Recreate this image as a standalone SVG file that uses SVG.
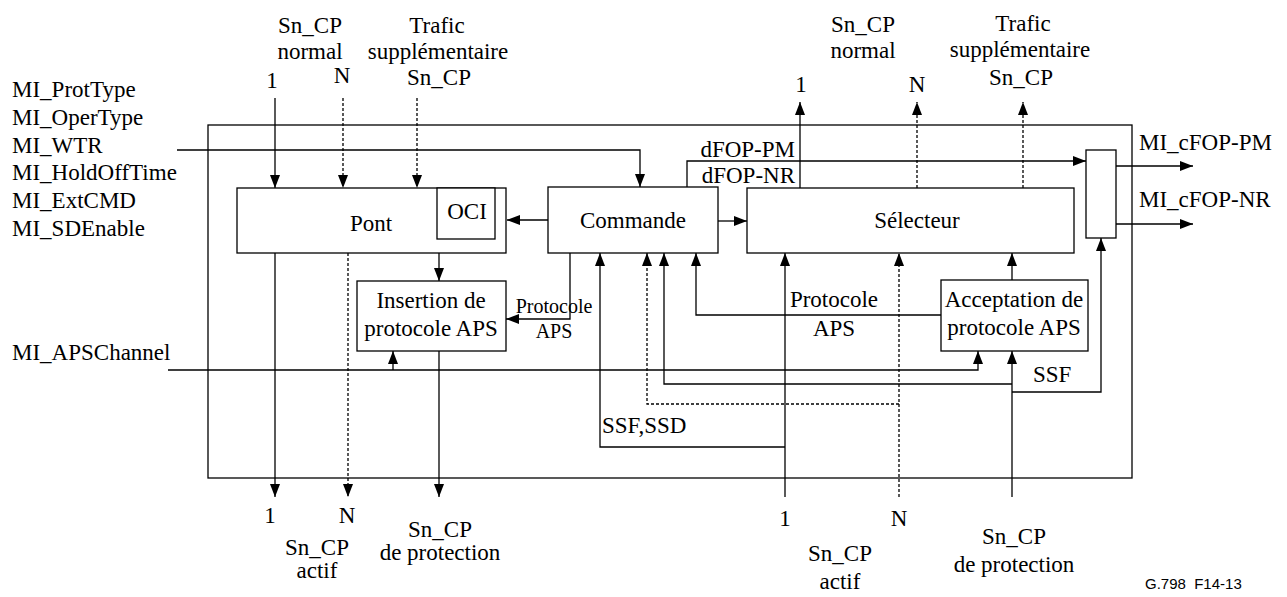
<svg xmlns="http://www.w3.org/2000/svg" width="1287" height="597" viewBox="0 0 1287 597">
<style>
text{font-family:"Liberation Serif","Times New Roman",serif;font-size:23px;fill:#000}
.m{text-anchor:middle}
.e{text-anchor:end}
.s{font-size:20px}
.f{font-family:"Liberation Sans",Arial,sans-serif;font-size:15px}
.box{fill:#fff;stroke:#000;stroke-width:1.3}
.frame{fill:none;stroke:#000;stroke-width:1.3}
.c{fill:none;stroke:#000;stroke-width:1.3}
.a{marker-end:url(#ah)}
.d{stroke-dasharray:3,2}
</style>
<defs>
<marker id="ah" markerUnits="userSpaceOnUse" markerWidth="13" markerHeight="10" refX="13" refY="5" orient="auto">
<path d="M0,0 L13,5 L0,10 z" fill="#000"/>
</marker>
</defs>
<rect class="frame" x="208" y="125" width="924" height="353"/>
<g id="connectors">
<path class="c a" d="M177,150 H640 V187"/>
<path class="c a" d="M275,98 V188"/>
<path class="c a d" d="M343,98 V188"/>
<path class="c a d" d="M417,98 V188"/>
<path class="c a" d="M548,220 H507"/>
<path class="c a" d="M718,221 H747"/>
<path class="c a" d="M439,253 V281"/>
<path class="c a" d="M570,253 V319 H506"/>
<path class="c a" d="M439,351 V497"/>
<path class="c a" d="M275,253 V497"/>
<path class="c a d" d="M348,253 V497"/>
<path class="c a" d="M168,370 H978 V351"/>
<path class="c a" d="M393,370 V351"/>
<path class="c a" d="M687,187 V161 H1086"/>
<path class="c a" d="M1116,166 H1193"/>
<path class="c a" d="M1116,224 H1193"/>
<path class="c a" d="M800,188 V102"/>
<path class="c a d" d="M917,188 V102"/>
<path class="c a d" d="M1023,188 V102"/>
<path class="c a" d="M1012,280 V253"/>
<path class="c a" d="M941,315 H696 V253"/>
<path class="c a" d="M1012,497 V351"/>
<path class="c a" d="M1012,384 H664 V253"/>
<path class="c a" d="M1012,392 H1101 V238"/>
<path class="c a d" d="M899,497 V253"/>
<path class="c a d" d="M899,404 H647 V253"/>
<path class="c a" d="M785,497 V253"/>
<path class="c a" d="M785,447 H600 V253"/>
</g>
<g id="pont">
<rect class="box" x="237" y="188" width="269" height="65"/>
<text class="m" x="371" y="231">Pont</text>
</g>
<g id="oci">
<rect class="box" x="437" y="188" width="58" height="51"/>
<text class="m" x="467" y="219">OCI</text>
</g>
<g id="commande">
<rect class="box" x="548" y="187" width="170" height="66"/>
<text class="m" x="633" y="228">Commande</text>
</g>
<g id="selecteur">
<rect class="box" x="747" y="188" width="327" height="65"/>
<text class="m" x="917" y="228">Sélecteur</text>
</g>
<g id="insertion">
<rect class="box" x="357" y="281" width="149" height="70"/>
<text class="m" x="431" y="308">Insertion de</text>
<text class="m" x="431" y="336">protocole APS</text>
</g>
<g id="acceptation">
<rect class="box" x="941" y="280" width="147" height="71"/>
<text class="m" x="1014" y="307">Acceptation de</text>
<text class="m" x="1014" y="335">protocole APS</text>
</g>
<g id="fop">
<rect class="box" x="1086" y="150" width="30" height="88"/>
</g>
<g id="labels">
<text x="12" y="97">MI_ProtType</text>
<text x="12" y="125">MI_OperType</text>
<text x="12" y="153">MI_WTR</text>
<text x="12" y="180">MI_HoldOffTime</text>
<text x="12" y="208">MI_ExtCMD</text>
<text x="12" y="236">MI_SDEnable</text>
<text x="12" y="360">MI_APSChannel</text>
<text class="m" x="310" y="33">Sn_CP</text>
<text class="m" x="310" y="59">normal</text>
<text class="m" x="272" y="88">1</text>
<text class="m" x="342" y="83">N</text>
<text class="m" x="437" y="33">Trafic</text>
<text class="m" x="438" y="59">supplémentaire</text>
<text class="m" x="439" y="85">Sn_CP</text>
<text class="m" x="863" y="32">Sn_CP</text>
<text class="m" x="863" y="58">normal</text>
<text class="m" x="801" y="92">1</text>
<text class="m" x="917" y="92">N</text>
<text class="m" x="1023" y="31">Trafic</text>
<text class="m" x="1020" y="57">supplémentaire</text>
<text class="m" x="1021" y="85">Sn_CP</text>
<text class="e" x="795" y="157">dFOP-PM</text>
<text class="e" x="795" y="183">dFOP-NR</text>
<text x="1139" y="150">MI_cFOP-PM</text>
<text x="1139" y="207">MI_cFOP-NR</text>
<text class="m s" x="554" y="313">Protocole</text>
<text class="m s" x="554" y="338">APS</text>
<text class="m" x="834" y="307">Protocole</text>
<text class="m" x="834" y="336">APS</text>
<text x="602" y="433">SSF,SSD</text>
<text x="1033" y="382">SSF</text>
<text class="m" x="270" y="523">1</text>
<text class="m" x="347" y="523">N</text>
<text class="m" x="317" y="555">Sn_CP</text>
<text class="m" x="317" y="578">actif</text>
<text class="m" x="440" y="537">Sn_CP</text>
<text class="m" x="440" y="560">de protection</text>
<text class="m" x="785" y="526">1</text>
<text class="m" x="899" y="526">N</text>
<text class="m" x="840" y="561">Sn_CP</text>
<text class="m" x="840" y="589">actif</text>
<text class="m" x="1014" y="544">Sn_CP</text>
<text class="m" x="1014" y="572">de protection</text>
<text class="f" x="1145" y="589">G.798&#160;&#160;F14-13</text>
</g>
</svg>
